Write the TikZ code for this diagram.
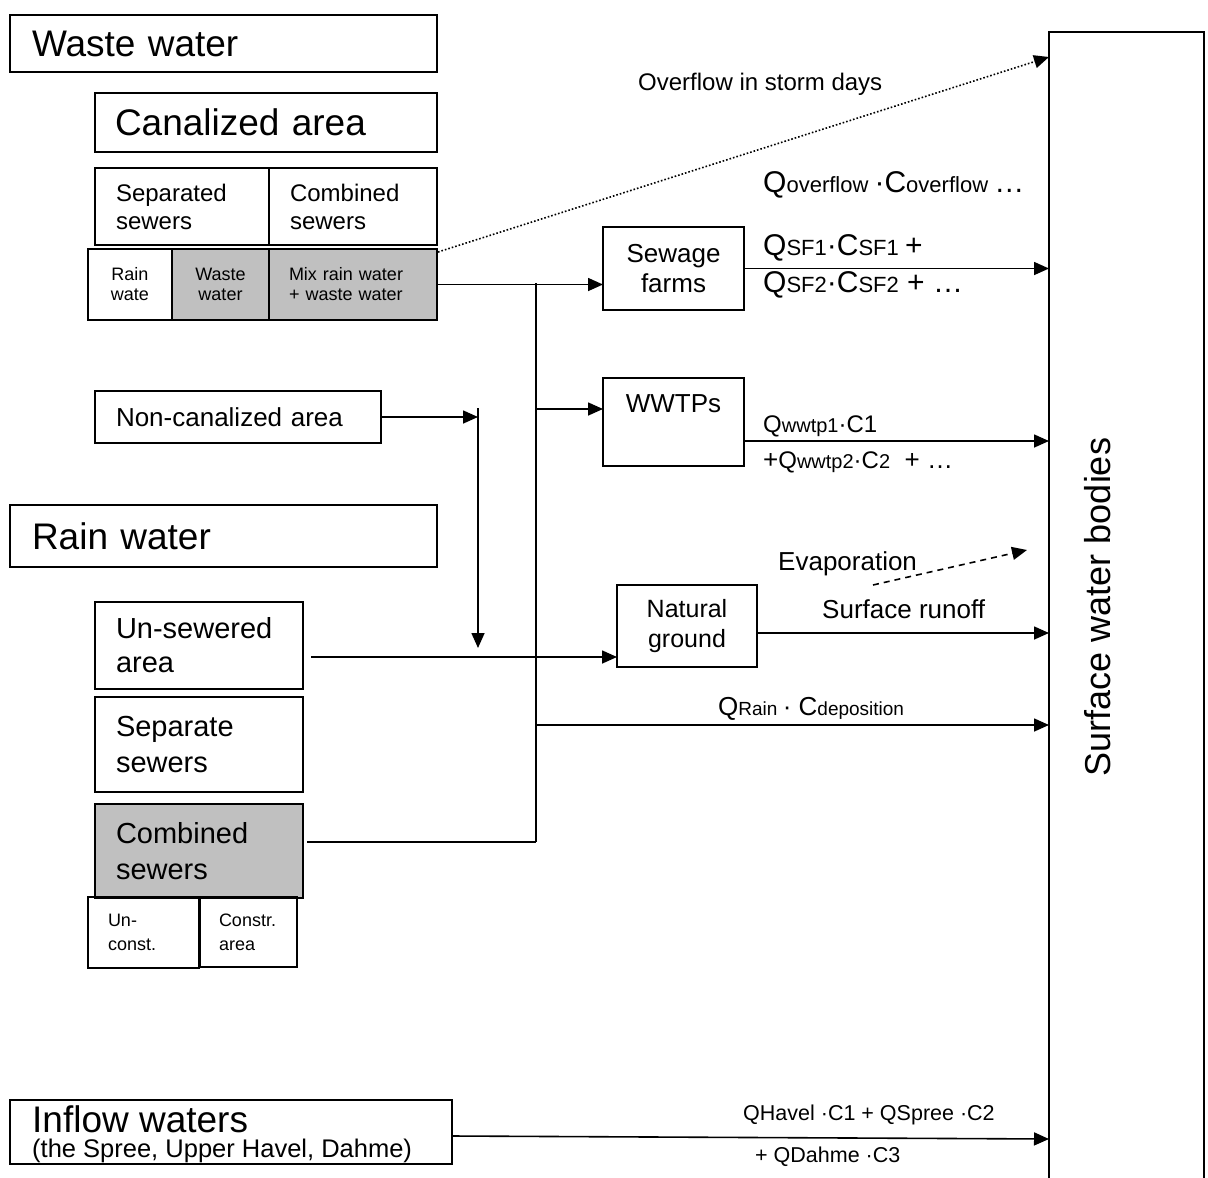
\documentclass[tikz,border=0pt]{standalone}
\usepackage{fontspec}
\setmainfont{Liberation Sans}
\usetikzlibrary{arrows.meta}
\definecolor{boxgray}{RGB}{192,192,192}
\newcommand\fsz[2]{\fontsize{#1}{#2}\selectfont}
\begin{document}
\begin{tikzpicture}[x=1pt,y=-1pt,
  box/.style={draw, line width=1.8pt, anchor=north west, inner ysep=0pt, outer sep=0pt},
  gbox/.style={box, fill=boxgray},
  conn/.style={line width=1.6pt},
  arr/.style={conn, -{Triangle[length=15pt,width=13pt]}},
  lbl/.style={anchor=base west, inner sep=0pt}]
\clip (0,0) rectangle (1208,1178);
\fill[white] (0,0) rectangle (1208,1178);
% waste water part
\node[box, text width=383pt, inner xsep=22pt, minimum height=57pt, align=left, font={\fsz{37}{42}}] (ww) at (10,15) {Waste water};
\node[box, text width=302pt, inner xsep=20pt, minimum height=59pt, align=left, font={\fsz{37}{42}}] (ca) at (95,93) {Canalized area};
\node[box, text width=132pt, inner xsep=21pt, minimum height=77pt, align=left, font={\fsz{24}{28}}] (ss) at (95,168) {Separated\\sewers};
\node[box, text width=126pt, inner xsep=21pt, minimum height=77pt, align=left, font={\fsz{24}{28}}] (cs) at (269,168) {Combined\\sewers};
\node[box, text width=80pt, inner xsep=2pt, minimum height=71pt, align=center, font={\fsz{18}{20}}] (rw) at (88,249) {Rain\\wate};
\node[gbox, text width=93pt, inner xsep=2pt, minimum height=71pt, align=center, font={\fsz{18}{20}}] (wws) at (172,249) {Waste\\water};
\node[gbox, text width=128pt, inner xsep=20pt, minimum height=71pt, align=left, font={\fsz{18}{20}}] (mix) at (269,249) {Mix rain water\\+ waste water};
\node[box, text width=244pt, inner xsep=21pt, minimum height=52pt, align=left, font={\fsz{26}{30}}] (nca) at (95,391) {Non-canalized area};
% rain water part
\node[box, text width=383pt, inner xsep=22pt, minimum height=62pt, align=left, font={\fsz{37}{42}}] (rain) at (10,505) {Rain water};
\node[box, text width=166pt, inner xsep=21pt, minimum height=87pt, align=left, font={\fsz{29}{34}}] (usa) at (95,602) {Un-sewered\\area};
\node[box, text width=166pt, inner xsep=21pt, minimum height=95pt, align=left, font={\fsz{29}{36}}] (sep) at (95,697) {Separate\\sewers};
\node[gbox, text width=166pt, inner xsep=21pt, minimum height=94pt, align=left, font={\fsz{29}{36}}] (comb) at (95,804) {Combined\\sewers};
\node[box, text width=71pt, inner xsep=20pt, minimum height=71pt, align=left, font={\fsz{18}{24}}] (unc) at (88,897) {Un-\\const.};
\node[box, text width=59pt, inner xsep=19pt, minimum height=70pt, align=left, font={\fsz{18}{24}}] (con) at (200,897) {Constr.\\area};
% inflow
\node[box, minimum width=442pt, minimum height=64pt] (inf) at (10,1100) {};
\node[lbl, font={\fsz{37}{40}}] (inft1) at (32,1132) {Inflow waters};
\node[lbl, font={\fsz{25.5}{28}}] (inft2) at (32,1157) {(the Spree, Upper Havel, Dahme)};
% treatment boxes
\node[box, text width=137pt, inner xsep=2pt, minimum height=83pt, align=center, font={\fsz{26}{30}}] (sf) at (603,227) {Sewage\\farms};
\node[box, minimum width=141pt, minimum height=88pt] (wwtp) at (603,378) {};
\node[anchor=base, inner sep=0pt, font={\fsz{26}{30}}] (wwtpt) at (673.5,412) {WWTPs};
\node[box, text width=136pt, inner xsep=2pt, minimum height=82pt, align=center, font={\fsz{25}{30}}] (ng) at (617,585) {Natural\\ground};
% surface water bodies
\node[box, minimum width=155pt, minimum height=1170pt] (swb) at (1049,32) {};
\node[rotate=90, inner sep=0pt, font={\fsz{36}{40}}] (swbt) at (1098,607) {Surface water bodies};
% coordinates
\coordinate (jtop) at (536,283);
\coordinate (jbot) at (536,842);
\coordinate (cbout) at (307,842);
\coordinate (jw) at (536,409);
\coordinate (wwin) at (603,409);
\coordinate (jr) at (536,725);
\coordinate (rainin) at (1049,725);
\coordinate (ncaend) at (478,417);
\coordinate (dtop) at (478,408);
\coordinate (dbot) at (478,648);
\coordinate (usaout) at (311,657);
\coordinate (ngin) at (617,657);
\coordinate (ovs) at (438,252);
\coordinate (ove) at (1049,57);
\coordinate (evs) at (873,585);
\coordinate (eve) at (1027,550);
\coordinate (infout) at (452,1136);
\coordinate (infin) at (1049,1139);
% connectors
\draw[arr] (mix.east) -- (mix.east -| sf.west);
\draw[conn] (jtop) -- (jbot);
\draw[conn] (cbout) -- (jbot);
\draw[arr] (jw) -- (wwin);
\draw[arr] (jr) -- (rainin);
\draw[arr] (sf.east) -- (sf.east -| swb.west);
\draw[arr] ([yshift=-19pt]wwtp.east) -- ([yshift=-19pt]wwtp.east -| swb.west);
\draw[arr] ([yshift=-7pt]ng.east) -- ([yshift=-7pt]ng.east -| swb.west);
\draw[arr] (nca.east) -- (ncaend);
\draw[arr] (dtop) -- (dbot);
\draw[arr] (usaout) -- (ngin);
\draw[arr, dotted] (ovs) -- (ove);
\draw[arr, dashed, dash pattern=on 6pt off 5pt] (evs) -- (eve);
\draw[arr] (infout) -- (infin);
% labels
\node[lbl, font={\fsz{24}{26}}] (lovt) at (638,90) {Overflow in storm days};
\node[lbl] (lovf) at (763,192) {\fsz{30}{32}Q\fsz{22}{24}overflow \fsz{30}{32}·C\fsz{22}{24}overflow \fsz{30}{32}…};
\node[lbl] (lsf1) at (763,255) {\fsz{30}{32}Q\fsz{22}{24}SF1\fsz{30}{32}·C\fsz{22}{24}SF1 \fsz{30}{32}+};
\node[lbl] (lsf2) at (763,292) {\fsz{30}{32}Q\fsz{22}{24}SF2\fsz{30}{32}·C\fsz{22}{24}SF2\fsz{30}{32} + …};
\node[lbl] (lw1) at (763,432) {\fsz{24}{26}Q\fsz{20}{22}wwtp1\fsz{24}{26}·C1};
\node[lbl] (lw2) at (763,468) {\fsz{26}{26}+\fsz{24}{26}Q\fsz{20}{22}wwtp2\fsz{24}{26}·C\fsz{20}{22}2\fsz{26}{26}\ \ + …};
\node[lbl, font={\fsz{26}{28}}] (levap) at (778,570) {Evaporation};
\node[lbl, font={\fsz{26}{28}}] (lrun) at (822,618) {Surface runoff};
\node[lbl] (lrain) at (718,715) {\fsz{26}{28}Q\fsz{19}{22}Rain \fsz{26}{28}· C\fsz{19}{22}deposition};
\node[lbl, font={\fsz{21.5}{24}}] (linf1) at (743,1120) {QHavel ·C1 + QSpree ·C2};
\node[lbl, font={\fsz{21.5}{24}}] (linf2) at (755,1162) {+ QDahme ·C3};
\end{tikzpicture}
\end{document}
